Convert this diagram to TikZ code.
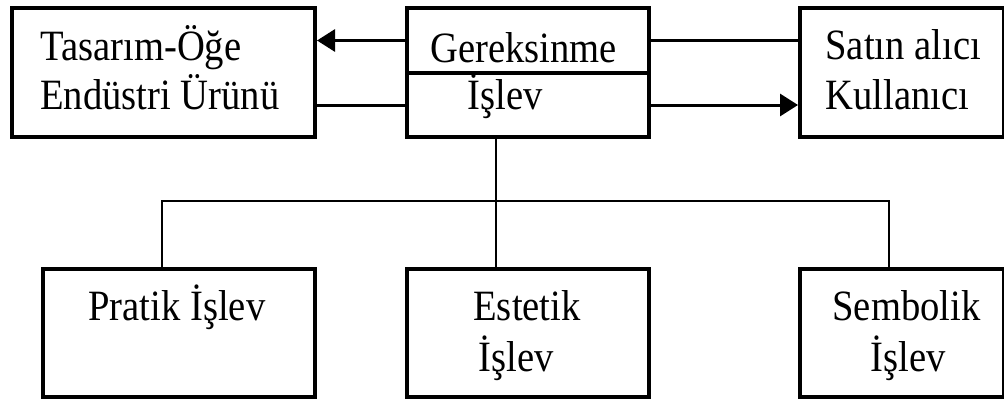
\documentclass[tikz,border=0pt]{standalone}
\usepackage{fontspec}
\setmainfont{Liberation Serif}
\usetikzlibrary{arrows.meta}

\tikzset{
  box/.style={draw, line width=2pt, minimum width=#1, minimum height=64.5pt, inner sep=0pt, anchor=north west},
  txt/.style={anchor=base west, inner sep=0pt, font=\fontsize{19.3}{22}\selectfont, yscale=1.12, transform shape},
  link/.style={line width=1.5pt},
  tree/.style={line width=1pt},
}

\begin{document}
\begin{tikzpicture}[x=0.5pt,y=-0.5pt]
\useasboundingbox (0,0) rectangle (1004,401);
% upper row
\node[box=151.5pt] (tasarim) at (10,6) {};
\node[box=121pt, minimum height=32.5pt] (gerek) at (405,6) {};
\node[box=121pt, minimum height=32pt] (islev) at (405,71) {};
\node[box=102pt] (satin) at (798,6) {};
% lower row
\node[box=136pt, minimum height=64pt] (pratik) at (41,267) {};
\node[box=121pt, minimum height=64pt] (estetik) at (405,267) {};
\node[box=102pt, minimum height=64pt] (sembolik) at (798,267) {};
% texts
\node[txt] (t1) at (40,61) {Tasarım-Öğe};
\node[txt] (t2) at (40,110) {Endüstri Ürünü};
\node[txt] (g1) at (430,62) {Gereksinme};
\node[txt] (g2) at (467,110) {İşlev};
\node[txt] (s1) at (825,60) {Satın alıcı};
\node[txt] (s2) at (825,109) {Kullanıcı};
\node[txt] (p1) at (88,320) {Pratik İşlev};
\node[txt] (e1) at (473,320) {Estetik};
\node[txt] (e2) at (478,371) {İşlev};
\node[txt] (b1) at (832,320) {Sembolik};
\node[txt] (b2) at (870,371) {İşlev};
% side connectors
\draw[link,-{Triangle[length=9pt,width=11pt]}] (gerek.west) -- (tasarim.east |- gerek.west);
\draw[link] (islev.west) -- (tasarim.east |- islev.west);
\draw[link] (gerek.east) -- (satin.west |- gerek.east);
\draw[link,-{Triangle[length=9pt,width=11pt]}] (islev.east) -- (satin.west |- islev.east);
% tree
\coordinate (hub) at (496,201);
\coordinate (tl) at (162,201);
\coordinate (tr) at (889,201);
\draw[tree] (islev.south -| hub) -- (estetik.north -| hub);
\draw[tree] (pratik.north -| tl) -- (tl) -- (tr) -- (sembolik.north -| tr);
\end{tikzpicture}
\end{document}
